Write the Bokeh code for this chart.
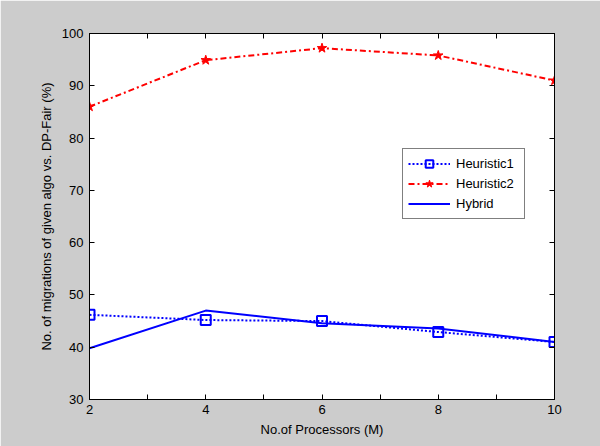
from bokeh.plotting import figure
from bokeh.models import Range1d, FixedTicker, LinearAxis, Legend, LegendItem
from bokeh.embed import file_html
from bokeh.resources import INLINE

processors = [2, 4, 6, 8, 10]
heuristic1 = [46.2, 45.2, 45.0, 42.9, 41.0]
heuristic2 = [86.0, 94.9, 97.2, 95.8, 91.0]
hybrid = [39.8, 47.0, 44.6, 43.6, 41.0]
x_major = [2, 4, 6, 8, 10]
x_minor = [3, 5, 7, 9]
y_ticks = [30, 40, 50, 60, 70, 80, 90, 100]

FONT = "Liberation Sans"
GRAY = "#cccccc"
FS = "13px"

p = figure(width=600, height=446, output_backend="svg", toolbar_location=None,
           x_range=Range1d(2, 10), y_range=Range1d(30, 100),
           min_border_left=89, min_border_right=46, min_border_top=33, min_border_bottom=47)
p.border_fill_color = GRAY
p.background_fill_color = "white"
p.outline_line_color = "black"
p.outline_line_width = 1
p.grid.visible = False

def style_axis(ax, labels=True):
    ax.major_tick_in = 5
    ax.major_tick_out = 0
    ax.minor_tick_in = 5
    ax.minor_tick_out = 0
    ax.axis_line_color = "black"
    ax.major_tick_line_color = "black"
    ax.minor_tick_line_color = "black"
    ax.major_label_text_font = FONT
    ax.major_label_text_font_size = FS
    ax.major_label_text_color = "black"
    ax.axis_label_text_font = FONT
    ax.axis_label_text_font_size = FS
    ax.axis_label_text_font_style = "normal"
    ax.axis_label_text_color = "black"
    if not labels:
        ax.major_label_text_font_size = "0px"
        ax.major_label_text_alpha = 0

p.xaxis.ticker = FixedTicker(ticks=x_major, minor_ticks=x_minor)
p.yaxis.ticker = FixedTicker(ticks=y_ticks, minor_ticks=[])
style_axis(p.xaxis[0])
style_axis(p.yaxis[0])
p.xaxis.axis_label = "No.of Processors (M)"
p.yaxis.axis_label = "No. of migrations of given algo vs. DP-Fair (%)"
p.xaxis.major_label_standoff = 5
p.yaxis.major_label_standoff = 6
p.xaxis.axis_label_standoff = 5
p.yaxis.axis_label_standoff = 5

top = LinearAxis(ticker=FixedTicker(ticks=x_major, minor_ticks=x_minor))
style_axis(top, labels=False)
p.add_layout(top, "above")
right = LinearAxis(ticker=FixedTicker(ticks=y_ticks, minor_ticks=[]))
style_axis(right, labels=False)
p.add_layout(right, "right")

l1 = p.line(processors, heuristic1, line_color="blue", line_width=2, line_dash="2 2")
m1 = p.scatter(processors, heuristic1, marker="square", size=10, fill_color=None,
               line_color="blue", line_width=2)
l2 = p.line(processors, heuristic2, line_color="red", line_width=2, line_dash="6 3 2 3")
m2 = p.scatter(processors, heuristic2, marker="star", size=10, fill_color="red",
               line_color="red", line_width=1)
l3 = p.line(processors, hybrid, line_color="blue", line_width=2)

legend = Legend(items=[
    LegendItem(label="Heuristic1", renderers=[l1, m1]),
    LegendItem(label="Heuristic2", renderers=[l2, m2]),
    LegendItem(label="Hybrid", renderers=[l3]),
], location=(313, 180))
legend.label_text_font = FONT
legend.label_text_font_size = FS
legend.label_text_color = "black"
legend.glyph_width = 42
legend.glyph_height = 19
legend.label_height = 19
legend.label_width = 63
legend.spacing = 1
legend.padding = 5
legend.margin = 0
legend.label_standoff = 6
legend.border_line_color = "black"
legend.border_line_width = 1
legend.background_fill_color = "white"
legend.background_fill_alpha = 1
p.add_layout(legend, "center")

open("out.html", "w").write(file_html(p, INLINE))
